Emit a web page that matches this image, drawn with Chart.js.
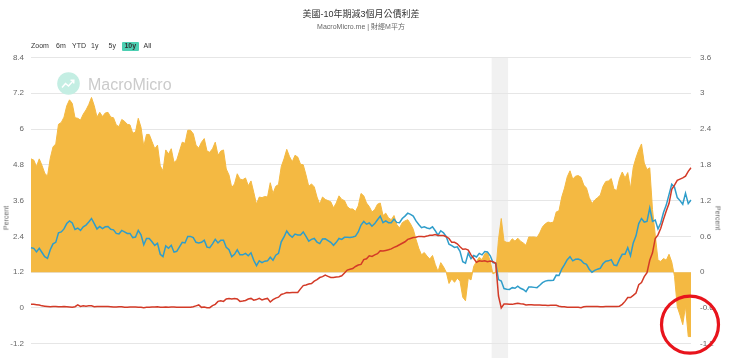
<!DOCTYPE html>
<html>
<head>
<meta charset="utf-8">
<script src="https://cdn.jsdelivr.net/npm/chart.js@4.4.0/dist/chart.umd.min.js"></script>
<style>
  html, body { margin: 0; padding: 0; width: 740px; height: 358px; overflow: hidden; background: #fff; }
  #wrap { position: relative; width: 740px; height: 400px; font-family: "Liberation Sans", Arial, "Noto Sans CJK TC", sans-serif; }
  #chart { position: absolute; left: 0; top: 0; }
  .txt { position: absolute; white-space: nowrap; }
  .title { left: 31px; width: 660px; top: 9px; text-align: center; font-size: 9px; line-height: 11px; color: #333; }
  .subtitle { left: 31px; width: 660px; top: 21.5px; text-align: center; font-size: 7px; line-height: 9px; color: #666; }
  .zoom span { position: absolute; top: 41px; font-size: 7px; line-height: 9px; color: #333; }
  .zoom .on { background: #4ccfb2; font-weight: bold; text-align: center; width: 16.5px; top: 42px; height: 8.5px; line-height: 8.5px; border-radius: 1px; }
  .axis-title { font-size: 7px; line-height: 9px; color: #666; transform: translate(-50%, -50%) rotate(-90deg); }
  .axis-title.right { transform: translate(-50%, -50%) rotate(90deg); }
  .wm { left: 88px; top: 76.8px; font-size: 16px; line-height: 16px; color: #cbcbcb; }
</style>
</head>
<body>
<div id="wrap">
  <canvas id="chart" width="740" height="400"></canvas>
  <div class="txt title">美國-10年期減3個月公債利差</div>
  <div class="txt subtitle">MacroMicro.me | 財經M平方</div>
  <div class="zoom">
    <span style="left:31px">Zoom</span>
    <span style="left:56px">6m</span>
    <span style="left:72px">YTD</span>
    <span style="left:91px">1y</span>
    <span style="left:108.5px">5y</span>
    <span class="on" style="left:122px">10y</span>
    <span style="left:143.5px">All</span>
  </div>
  <svg class="txt" style="left:57px; top:72.4px" width="23" height="23" viewBox="0 0 23 23">
    <circle cx="11.5" cy="11.5" r="11.3" fill="#c4eee3"/>
    <polyline points="5,15.5 8.5,11.5 11.5,14 16.5,8.5" fill="none" stroke="#fff" stroke-width="1.5"/>
    <polyline points="13.5,8.3 16.8,8.2 16.7,11.4" fill="none" stroke="#fff" stroke-width="1.5"/>
  </svg>
  <div class="txt wm">MacroMicro</div>
  <div class="txt axis-title" style="left:6px; top:218px">Percent</div>
  <div class="txt axis-title right" style="left:718px; top:218px">Percent</div>
</div>
<script>
'use strict';

// ====== DATA ======
// semi-monthly observations (1st and 16th), starting Feb 2013
const firstObs = { year: 2013, month: 2 };

// 10-year Treasury yield, %  (left axis)
const tenYear = [
  2.02, 2.00, 1.88, 2.00, 1.86, 1.72, 1.66, 1.95, 2.15, 2.20, 2.52, 2.55, 2.65, 2.83, 2.92, 2.85, 2.63, 2.68, 2.60, 2.72, 2.78, 2.88,
  3.00, 2.83, 2.65, 2.73, 2.66, 2.72, 2.73, 2.64, 2.62, 2.50, 2.48, 2.60, 2.55, 2.50, 2.50, 2.36, 2.38, 2.60, 2.45, 2.12, 2.33, 2.33, 2.22, 2.10,
  2.17, 1.80, 1.72, 2.08, 2.00, 2.10, 1.87, 1.90, 2.05, 2.20, 2.18, 2.40, 2.40, 2.36, 2.20, 2.18, 2.20, 2.27, 2.04, 2.02, 2.15, 2.30, 2.18, 2.27,
  2.27, 2.03, 1.95, 1.72, 1.80, 1.95, 1.78, 1.78, 1.83, 1.75, 1.85, 1.60, 1.42, 1.58, 1.52, 1.57, 1.58, 1.70, 1.60, 1.77, 1.83, 2.22, 2.38, 2.58,
  2.45, 2.37, 2.48, 2.45, 2.45, 2.55, 2.40, 2.24, 2.30, 2.33, 2.21, 2.16, 2.31, 2.32, 2.26, 2.20, 2.10, 2.20, 2.33, 2.30, 2.37, 2.37, 2.36, 2.38,
  2.41, 2.55, 2.78, 2.90, 2.81, 2.85, 2.74, 2.83, 2.96, 3.08, 2.86, 2.92, 2.86, 2.86, 2.98, 2.87, 2.86, 3.00, 3.08, 3.18, 3.14, 3.08, 2.92, 2.80,
  2.69, 2.72, 2.68, 2.66, 2.72, 2.59, 2.44, 2.59, 2.52, 2.39, 2.14, 2.09, 2.03, 2.05, 1.90, 1.55, 1.50, 1.84, 1.65, 1.76, 1.71, 1.83, 1.78, 1.89,
  1.88, 1.75, 1.52, 1.50, 0.95, 0.90, 0.65, 0.63, 0.62, 0.68, 0.66, 0.73, 0.66, 0.62, 0.55, 0.70, 0.70, 0.69, 0.68, 0.76, 0.85, 0.90, 0.92, 0.92,
  0.93, 1.10, 1.09, 1.30, 1.45, 1.62, 1.72, 1.58, 1.63, 1.64, 1.60, 1.50, 1.46, 1.30, 1.20, 1.26, 1.30, 1.33, 1.48, 1.57, 1.58, 1.62, 1.44, 1.42,
  1.63, 1.80, 1.80, 2.02, 1.75, 2.18, 2.42, 2.83, 3.00, 2.88, 2.90, 3.35, 2.90, 2.95, 2.65, 2.85, 3.20, 3.45, 3.80, 4.15, 4.05, 3.70, 3.60, 3.48,
  3.85, 3.50, 3.62
];

// 3-month Treasury yield, %  (left axis)
const threeMonth = [
  0.12, 0.12, 0.11, 0.10, 0.07, 0.06, 0.05, 0.04, 0.05, 0.05, 0.04, 0.04, 0.05, 0.04, 0.03, 0.02, 0.04, 0.10, 0.05, 0.07, 0.06, 0.07,
  0.07, 0.04, 0.05, 0.05, 0.05, 0.05, 0.05, 0.04, 0.03, 0.03, 0.04, 0.04, 0.02, 0.02, 0.03, 0.03, 0.03, 0.02, 0.02, 0.01, 0.02, 0.02, 0.03, 0.03,
  0.04, 0.02, 0.02, 0.03, 0.02, 0.03, 0.03, 0.02, 0.02, 0.02, 0.02, 0.02, 0.02, 0.04, 0.07, 0.10, 0.02, 0.03, 0.01, 0.01, 0.08, 0.12, 0.22, 0.24,
  0.22, 0.30, 0.32, 0.30, 0.32, 0.30, 0.22, 0.23, 0.25, 0.30, 0.32, 0.26, 0.28, 0.32, 0.27, 0.30, 0.32, 0.20, 0.28, 0.33, 0.36, 0.45, 0.48, 0.52,
  0.51, 0.52, 0.52, 0.52, 0.64, 0.75, 0.77, 0.80, 0.82, 0.90, 0.95, 1.02, 1.05, 1.10, 1.06, 1.02, 1.02, 1.04, 1.05, 1.08, 1.17, 1.27, 1.30, 1.32,
  1.39, 1.44, 1.46, 1.62, 1.65, 1.75, 1.73, 1.78, 1.82, 1.92, 1.91, 1.93, 1.95, 1.98, 2.03, 2.07, 2.12, 2.17, 2.22, 2.30, 2.33, 2.36, 2.37, 2.40,
  2.40, 2.39, 2.41, 2.44, 2.44, 2.46, 2.43, 2.43, 2.43, 2.39, 2.33, 2.20, 2.20, 2.15, 2.05, 1.97, 1.98, 1.94, 1.78, 1.66, 1.53, 1.58, 1.57, 1.58,
  1.55, 1.57, 1.55, 1.50, 0.40, 0.00, 0.13, 0.13, 0.12, 0.12, 0.14, 0.16, 0.14, 0.13, 0.10, 0.11, 0.11, 0.10, 0.10, 0.10, 0.09, 0.09, 0.08, 0.09,
  0.09, 0.09, 0.06, 0.04, 0.04, 0.02, 0.02, 0.02, 0.02, 0.02, 0.01, 0.04, 0.05, 0.05, 0.05, 0.05, 0.05, 0.04, 0.04, 0.05, 0.05, 0.05, 0.05, 0.05,
  0.06, 0.12, 0.22, 0.35, 0.35, 0.42, 0.50, 0.78, 0.85, 1.05, 1.18, 1.60, 1.85, 2.33, 2.45, 2.67, 2.97, 3.25, 3.50, 3.98, 4.12, 4.28, 4.32, 4.36,
  4.42, 4.58, 4.70
];

// 10Y minus 3M spread, %  (right axis, orange area)
const spread = [
  1.90, 1.88, 1.77, 1.90, 1.79, 1.66, 1.61, 1.91, 2.10, 2.15, 2.48, 2.51, 2.60, 2.79, 2.89, 2.83, 2.59, 2.58, 2.55, 2.65, 2.72, 2.81,
  2.93, 2.79, 2.60, 2.68, 2.61, 2.67, 2.68, 2.60, 2.59, 2.47, 2.44, 2.56, 2.53, 2.48, 2.47, 2.33, 2.35, 2.58, 2.43, 2.11, 2.31, 2.31, 2.19, 2.07,
  2.13, 1.78, 1.70, 2.05, 1.98, 2.07, 1.84, 1.88, 2.03, 2.18, 2.16, 2.38, 2.38, 2.32, 2.13, 2.08, 2.18, 2.24, 2.03, 2.01, 2.07, 2.18, 1.96, 2.03,
  2.05, 1.73, 1.63, 1.42, 1.48, 1.65, 1.56, 1.55, 1.58, 1.45, 1.53, 1.34, 1.14, 1.26, 1.25, 1.27, 1.26, 1.50, 1.32, 1.44, 1.47, 1.77, 1.90, 2.06,
  1.94, 1.85, 1.96, 1.93, 1.81, 1.80, 1.63, 1.44, 1.48, 1.43, 1.26, 1.14, 1.26, 1.22, 1.20, 1.18, 1.08, 1.16, 1.28, 1.22, 1.20, 1.10, 1.06, 1.06,
  1.02, 1.11, 1.32, 1.28, 1.16, 1.10, 1.01, 1.05, 1.14, 1.16, 0.95, 0.99, 0.91, 0.88, 0.95, 0.80, 0.74, 0.83, 0.86, 0.88, 0.81, 0.72, 0.55, 0.40,
  0.29, 0.33, 0.27, 0.22, 0.28, 0.13, 0.01, 0.16, 0.09, 0.00, -0.19, -0.11, -0.17, -0.10, -0.15, -0.42, -0.48, -0.10, -0.13, 0.10, 0.18, 0.25, 0.21, 0.31,
  0.33, 0.18, -0.03, 0.00, 0.55, 0.90, 0.52, 0.50, 0.50, 0.56, 0.52, 0.57, 0.52, 0.49, 0.45, 0.59, 0.59, 0.59, 0.58, 0.66, 0.76, 0.81, 0.84, 0.83,
  0.84, 1.01, 1.03, 1.26, 1.41, 1.60, 1.70, 1.56, 1.61, 1.62, 1.59, 1.46, 1.41, 1.25, 1.15, 1.21, 1.25, 1.29, 1.44, 1.52, 1.53, 1.57, 1.39, 1.37,
  1.57, 1.68, 1.58, 1.67, 1.40, 1.76, 1.92, 2.05, 2.15, 1.83, 1.72, 1.75, 1.05, 0.62, 0.20, 0.18, 0.23, 0.20, 0.30, 0.17, -0.07, -0.58, -0.72, -0.88,
  -0.57, -1.08, -1.08
];

const leftTicks = [-2.4, -1.2, 0, 1.2, 2.4, 3.6, 4.8, 6, 7.2, 8.4];
const rightTicks = [-1.8, -1.2, -0.6, 0, 0.6, 1.2, 1.8, 2.4, 3, 3.6];

// recession shading (first and last observation inside the band)
const recession = ['2020-02-01', '2020-04-16'];

// ====== LABELS ======
const labels = tenYear.map((_, i) => {
    const m = firstObs.month - 1 + Math.floor(i / 2);
    const y = firstObs.year + Math.floor(m / 12);
    return `${y}-${String(m % 12 + 1).padStart(2, '0')}-${i % 2 ? '16' : '01'}`;
});

const FONT = '"Liberation Sans", Arial, sans-serif';

// ====== PLUGINS ======
const recessionBand = {
    id: 'recessionBand',
    beforeDraw(chart) {
        const { ctx, chartArea, scales } = chart;
        const x0 = scales.x.getPixelForValue(labels.indexOf(recession[0]) - 0.5);
        const x1 = scales.x.getPixelForValue(labels.indexOf(recession[1]) + 0.5);
        ctx.save();
        ctx.fillStyle = '#f1f1f1';
        ctx.fillRect(x0, chartArea.top, x1 - x0, chartArea.bottom - chartArea.top);
        ctx.restore();
    }
};

// red ring highlighting the latest inversion
const highlightRing = {
    id: 'highlightRing',
    afterDraw(chart) {
        const { ctx, scales } = chart;
        const last = spread.length - 1;
        const cx = scales.x.getPixelForValue(last) - 1;
        const cy = scales.y1.getPixelForValue(-0.88);
        ctx.save();
        ctx.strokeStyle = '#e8141c';
        ctx.lineWidth = 3.2;
        ctx.beginPath();
        ctx.arc(cx, cy, 28.5, 0, Math.PI * 2);
        ctx.stroke();
        ctx.restore();
    }
};

function fmt(v) {
    return String(Math.round(v * 10) / 10);
}

// ====== CHART ======
new Chart(document.getElementById('chart').getContext('2d'), {
    type: 'line',
    data: {
        labels,
        datasets: [
            { label: '3M', data: threeMonth, yAxisID: 'y', borderColor: '#d33a27', borderWidth: 1.5, pointRadius: 0, order: 0 },
            { label: '10Y', data: tenYear, yAxisID: 'y', borderColor: '#2f9dca', borderWidth: 1.5, pointRadius: 0, order: 1 },
            { label: '10Y-3M', data: spread, yAxisID: 'y1', borderColor: '#f4b942', backgroundColor: '#f4b942', borderWidth: 1, pointRadius: 0, fill: 'origin', order: 2 }
        ]
    },
    options: {
        responsive: false,
        animation: false,
        events: [],
        layout: { padding: { top: 57.5, bottom: 20.5, left: 0, right: 0 } },
        plugins: { legend: { display: false }, tooltip: { enabled: false } },
        scales: {
            x: { display: false },
            y: {
                position: 'left',
                min: -2.4, max: 8.4,
                afterBuildTicks: s => { s.ticks = leftTicks.map(v => ({ value: v })); },
                afterFit: s => { s.width = 31; },
                ticks: { padding: 7, color: '#666', font: { size: 8, family: FONT }, callback: fmt },
                grid: { color: '#e6e6e6', lineWidth: 1, drawTicks: false },
                border: { display: false }
            },
            y1: {
                position: 'right',
                min: -1.8, max: 3.6,
                afterBuildTicks: s => { s.ticks = rightTicks.map(v => ({ value: v })); },
                afterFit: s => { s.width = 49; },
                ticks: { padding: 9, color: '#666', font: { size: 8, family: FONT }, callback: fmt },
                grid: { display: false, drawTicks: false },
                border: { display: false }
            }
        }
    },
    plugins: [recessionBand, highlightRing]
});
</script>
</body>
</html>
